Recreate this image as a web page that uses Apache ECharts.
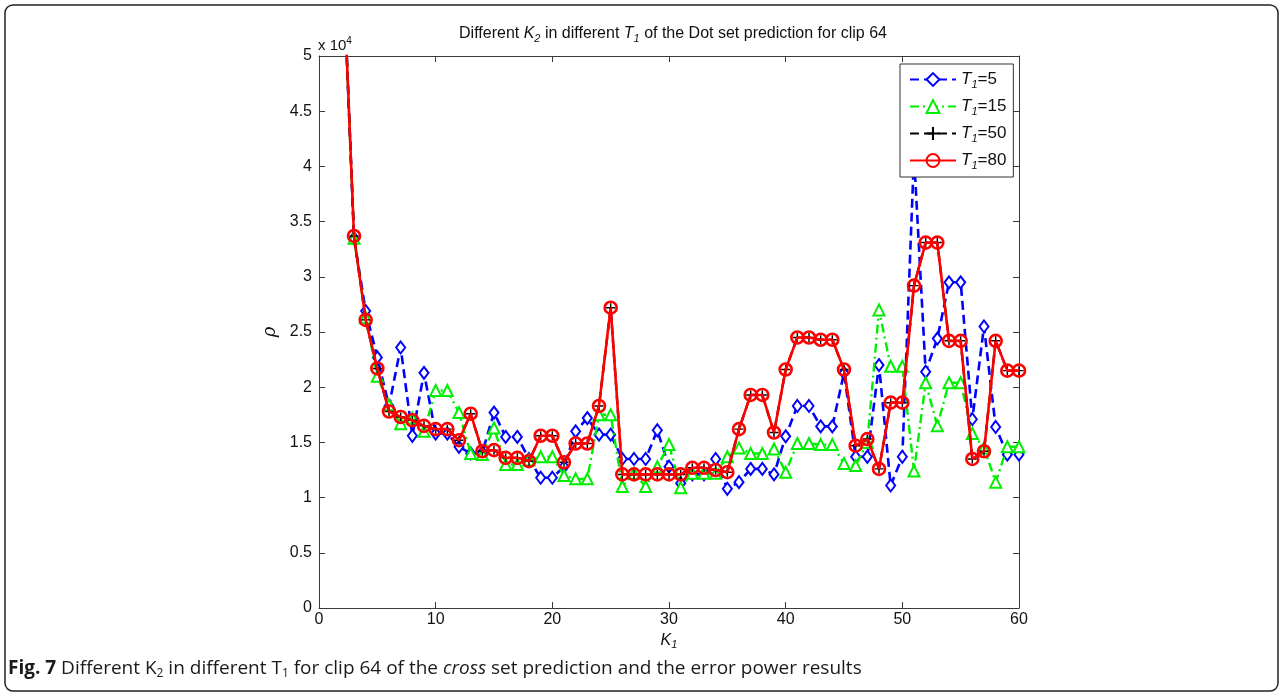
<!DOCTYPE html>
<html>
<head>
<meta charset="utf-8">
<script src="https://cdn.jsdelivr.net/npm/echarts@6/dist/echarts.min.js"></script>
<style>
html,body{margin:0;padding:0;background:#fff;}
#chart{width:1284px;height:697px;}
</style>
</head>
<body>
<div id="chart"></div>
<script>
// K1 values (x axis)
var kValues = [2,3,4,5,6,7,8,9,10,11,12,13,14,15,16,17,18,19,20,21,22,23,24,25,26,27,28,29,30,31,32,33,34,35,36,37,38,39,40,41,42,43,44,45,46,47,48,49,50,51,52,53,54,55,56,57,58,59,60];
// rho values, in units of 10^4
var rhoT5 = [6.0,3.35,2.69,2.27,1.83,2.36,1.56,2.13,1.58,1.58,1.46,1.40,1.41,1.77,1.55,1.55,1.35,1.18,1.18,1.28,1.60,1.72,1.57,1.57,1.35,1.35,1.35,1.61,1.28,1.13,1.21,1.21,1.35,1.08,1.14,1.26,1.26,1.21,1.555,1.83,1.83,1.645,1.645,2.13,1.37,1.37,2.20,1.11,1.37,4.1,2.14,2.44,2.95,2.95,1.71,2.55,1.64,1.39,1.39];
var rhoT15 = [6.0,3.35,2.63,2.10,1.84,1.67,1.72,1.60,1.97,1.97,1.77,1.40,1.39,1.63,1.30,1.30,1.34,1.37,1.37,1.20,1.17,1.17,1.75,1.75,1.10,1.22,1.10,1.28,1.48,1.09,1.22,1.22,1.22,1.37,1.45,1.40,1.40,1.44,1.23,1.49,1.49,1.48,1.48,1.31,1.29,1.50,2.70,2.19,2.19,1.24,2.04,1.65,2.04,2.04,1.58,1.45,1.14,1.46,1.46];
var rhoT50 = [6.0,3.37,2.61,2.17,1.78,1.73,1.70,1.65,1.62,1.62,1.52,1.76,1.42,1.43,1.36,1.36,1.33,1.56,1.56,1.32,1.49,1.49,1.83,2.72,1.21,1.21,1.21,1.21,1.21,1.21,1.27,1.27,1.25,1.23,1.62,1.93,1.93,1.59,2.16,2.45,2.45,2.43,2.43,2.16,1.47,1.53,1.26,1.86,1.86,2.92,3.31,3.31,2.42,2.42,1.35,1.42,2.42,2.15,2.15];
var rhoT80 = [6.0,3.37,2.61,2.17,1.78,1.73,1.70,1.65,1.62,1.62,1.52,1.76,1.42,1.43,1.36,1.36,1.33,1.56,1.56,1.32,1.49,1.49,1.83,2.72,1.21,1.21,1.21,1.21,1.21,1.21,1.27,1.27,1.25,1.23,1.62,1.93,1.93,1.59,2.16,2.45,2.45,2.43,2.43,2.16,1.47,1.53,1.26,1.86,1.86,2.92,3.31,3.31,2.42,2.42,1.35,1.42,2.42,2.15,2.15];
var seriesNames = ['T1=5','T1=15','T1=50','T1=80'];
var legendSuffix = ['=5','=15','=50','=80'];
var xTicks = [0,10,20,30,40,50,60];
var yTicks = [0,0.5,1,1.5,2,2.5,3,3.5,4,4.5,5];

function pairs(arr){ return kValues.map(function(k,i){ return [k, arr[i]]; }); }

var chart = echarts.init(document.getElementById('chart'), null, {renderer:'canvas'});
var FONT = 'Liberation Sans';
var axisColor = '#3a3a3a';
var plusPath = 'path://M-1,-0.16 L-0.16,-0.16 L-0.16,-1 L0.16,-1 L0.16,-0.16 L1,-0.16 L1,0.16 L0.16,0.16 L0.16,1 L-0.16,1 L-0.16,0.16 L-1,0.16 Z';

var option = {
  backgroundColor: '#fff',
  animation: false,
  title: {
    text: 'Different {i|K}{s|2} in different {i|T}{s|1} of the Dot set prediction for clip 64',
    left: 668, top: 19, textAlign: 'center',
    textStyle: {
      fontFamily: FONT, fontSize: 16, fontWeight: 'normal', color: '#111',
      rich: {
        i: {fontFamily: FONT, fontSize: 16, fontStyle: 'italic', color: '#111'},
        s: {fontFamily: FONT, fontSize: 11, fontStyle: 'italic', color: '#111', verticalAlign: 'bottom', padding: [9,0,0,0]}
      }
    }
  },
  legend: {
    data: seriesNames,
    orient: 'vertical',
    left: 900, top: 64,
    padding: [7, 7, 6, 9],
    itemGap: 8,
    itemWidth: 46, itemHeight: 16,
    backgroundColor: '#fff',
    borderColor: '#333', borderWidth: 1, borderRadius: 0,
    formatter: function(name){
      var i = seriesNames.indexOf(name);
      return '{i|T}{s|1}{n|' + legendSuffix[i] + '}';
    },
    textStyle: {
      fontFamily: FONT, fontSize: 17, color: '#111',
      rich: {
        i: {fontFamily: FONT, fontSize: 17, fontStyle: 'italic', color: '#111'},
        s: {fontFamily: FONT, fontSize: 11, fontStyle: 'italic', color: '#111', verticalAlign: 'bottom', padding: [10,0,0,0]},
        n: {fontFamily: FONT, fontSize: 17, color: '#111'}
      }
    }
  },
  grid: {left: 319, right: 265, top: 56, bottom: 89, containLabel: false},
  xAxis: [{
    type: 'value', min: 0, max: 60, interval: 10,
    name: '{i|K}{s|1}', nameLocation: 'middle', nameGap: 17,
    nameTextStyle: {
      rich: {
        i: {fontFamily: FONT, fontSize: 16, fontStyle: 'italic', color: '#111'},
        s: {fontFamily: FONT, fontSize: 11, fontStyle: 'italic', color: '#111', verticalAlign: 'bottom', padding: [9,0,0,0]}
      }
    },
    axisLine: {onZero: false, lineStyle: {color: axisColor, width: 1}},
    axisTick: {inside: true, length: 6, lineStyle: {color: axisColor}},
    axisLabel: {fontFamily: FONT, fontSize: 16, color: '#111', margin: 4},
    splitLine: {show: false}
  },{
    type: 'value', min: 0, max: 60, interval: 10, position: 'top',
    axisLine: {show: true, onZero: false, lineStyle: {color: axisColor, width: 1}},
    axisTick: {show: true, inside: true, length: 6, lineStyle: {color: axisColor}},
    axisLabel: {show: false}, splitLine: {show: false}
  }],
  yAxis: [{
    type: 'value', min: 0, max: 5, interval: 0.5,
    name: 'ρ', nameLocation: 'middle', nameGap: 27, nameRotate: 90,
    nameTextStyle: {fontFamily: 'DejaVu Serif', fontSize: 18, fontStyle: 'italic', color: '#111'},
    axisLine: {show: true, onZero: false, lineStyle: {color: axisColor, width: 1}},
    axisTick: {show: true, inside: true, length: 6, lineStyle: {color: axisColor}},
    axisLabel: {fontFamily: FONT, fontSize: 16, color: '#111', margin: 7},
    splitLine: {show: false}
  },{
    type: 'value', min: 0, max: 5, interval: 0.5, position: 'right',
    axisLine: {show: true, onZero: false, lineStyle: {color: axisColor, width: 1}},
    axisTick: {show: true, inside: true, length: 6, lineStyle: {color: axisColor}},
    axisLabel: {show: false}, splitLine: {show: false}
  }],
  graphic: [
    {type: 'rect', shape: {x: 5, y: 5, width: 1273, height: 686, r: 8}, style: {fill: 'none', stroke: '#222', lineWidth: 1.5}, silent: true},
    {type: 'text', left: 318, top: 36, style: {
      text: 'x 10{sup|4}', fontFamily: FONT, fontSize: 15, fill: '#111',
      rich: {sup: {fontFamily: FONT, fontSize: 10, fill: '#111', verticalAlign: 'top', padding: [0,0,9,0]}}
    }},
    {type: 'text', left: 8, top: 659, style: {
      text: '{b|Fig. 7} Different K{s|2} in different T{s|1} for clip 64 of the {it|cross} set prediction and the error power results',
      fontFamily: 'Open Sans', fontSize: 19, fill: '#1a1a1a',
      rich: {
        b: {fontFamily: 'Open Sans', fontSize: 19, fontWeight: 'bold', fill: '#1a1a1a'},
        it: {fontFamily: 'Open Sans', fontSize: 19, fontStyle: 'italic', fill: '#1a1a1a'},
        s: {fontFamily: 'Open Sans', fontSize: 12, fill: '#1a1a1a', verticalAlign: 'bottom', padding: [11,0,0,0]}
      }
    }}
  ],
  series: [
    {
      name: seriesNames[0], type: 'line', data: pairs(rhoT5), clip: true,
      symbol: 'emptyDiamond', symbolSize: [9, 12],
      lineStyle: {color: '#0000ff', width: 2.6, type: [9, 5]},
      itemStyle: {color: '#0000ff', borderWidth: 2.2},
      z: 2
    },
    {
      name: seriesNames[1], type: 'line', data: pairs(rhoT15), clip: true,
      symbol: 'emptyTriangle', symbolSize: 11,
      lineStyle: {color: '#00ee00', width: 2.4, type: [9, 4, 2, 4]},
      itemStyle: {color: '#00ee00', borderWidth: 2.2},
      z: 3
    },
    {
      name: seriesNames[2], type: 'line', data: pairs(rhoT50), clip: true,
      symbol: plusPath, symbolSize: 9,
      lineStyle: {color: '#000', width: 2.4, type: [9, 5]},
      itemStyle: {color: '#000'},
      z: 4
    },
    {
      name: seriesNames[3], type: 'line', data: pairs(rhoT80), clip: true,
      symbol: 'circle', symbolSize: 12,
      lineStyle: {color: '#ff0000', width: 2.6},
      itemStyle: {color: 'rgba(255,0,0,0)', borderColor: '#ff0000', borderWidth: 2.6},
      z: 5
    }
  ]
};
chart.setOption(option);
</script>
</body>
</html>
